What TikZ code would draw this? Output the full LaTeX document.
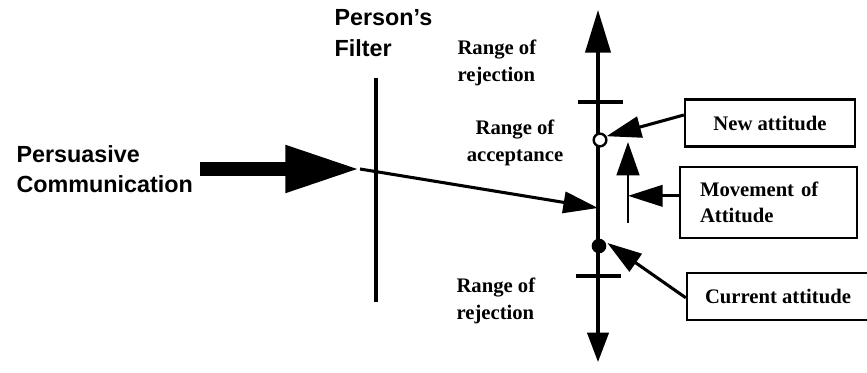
\documentclass[tikz,border=0pt]{standalone}
\usepackage{fontspec}
\setmainfont{Liberation Serif}
\setsansfont{Liberation Sans}
\usetikzlibrary{arrows.meta}

\begin{document}
\begin{tikzpicture}[x=0.75pt, y=-0.75pt, line width=2.3pt,
    headline/.style={font=\sffamily\bfseries\fontsize{17.5}{23}\selectfont, align=left, inner sep=0pt},
    rangelabel/.style={font=\bfseries\fontsize{15.5}{20}\selectfont, align=left, inner sep=0pt},
    attbox/.style={draw, line width=1.7pt, font=\bfseries\fontsize{15.5}{20}\selectfont, minimum height=35.25pt, inner sep=0pt},
    callout/.style={-{Triangle[length=26pt,width=16pt]}}]
		\useasboundingbox (0,0) rectangle (867,373);
		
		% Persuasive communication
		\node[headline, anchor=west] (pc) at (15,169) {Persuasive\\Communication};
		\coordinate (pctip) at (360,169);
		\draw[line width=10.5pt, -{Triangle[length=56pt,width=33pt]}] ([xshift=4pt]pc.east) -- (pctip);
		
		% Person's filter
		\node[headline, anchor=north west] (filter) at (333,8) {Person’s\\Filter};
		\coordinate (ftop) at (376,78);
		\coordinate (fbot) at (376,302);
		\draw (ftop) -- (fbot);
		
		% Attitude scale
		\coordinate (stop) at (598,10);
		\coordinate (sbot) at (598,362);
		\coordinate (hit) at (598,208);
		\draw[{Triangle[length=22pt,width=16pt]}-{Triangle[length=32pt,width=19pt]}] (sbot) -- (stop);
		\draw (578,102) -- (623,102);
		\draw (576,276) -- (621,276);
		\draw[callout] (pctip) -- (hit);
		\node[circle, draw, fill=white, line width=1.8pt, minimum size=9.5pt, inner sep=0pt] (newatt) at (600,140) {};
		\node[circle, fill, minimum size=11pt, inner sep=0pt] (curatt) at (599,246) {};
		
		% Ranges
		\node[rangelabel, anchor=west] (rejtop) at (456,63) {Range of\\rejection};
		\node[rangelabel, align=center] (accept) at (515,143) {Range of\\acceptance};
		\node[rangelabel, anchor=west] (rejbot) at (455,301) {Range of\\rejection};
		
		% Boxes
		\node[attbox, minimum width=127.5pt] (newbox) at (770,123) {New attitude};
		\node[attbox, minimum width=132.75pt, minimum height=53.25pt, text width=102.75pt, inner xsep=15pt, align=left] (movebox) at (768.5,202.5) {Movement of\\Attitude};
		\node[attbox, minimum width=136.5pt] (curbox) at (778,296.5) {Current attitude};
		
		% Callouts
		\draw[callout] ([yshift=6pt]newbox.west) -- (newatt.30);
		\coordinate (mvbot) at (628,223);
		\coordinate (mvtop) at (628,142);
		\draw[line width=1.8pt, -{Triangle[length=25pt,width=17pt]}] (mvbot) -- (mvtop);
		\draw[callout] ([yshift=5pt]movebox.west) -- ([yshift=5pt]movebox.west -| mvbot);
		\draw[callout] ([yshift=-1pt]curbox.west) -- (curatt.20);
	\end{tikzpicture}
\end{document}
